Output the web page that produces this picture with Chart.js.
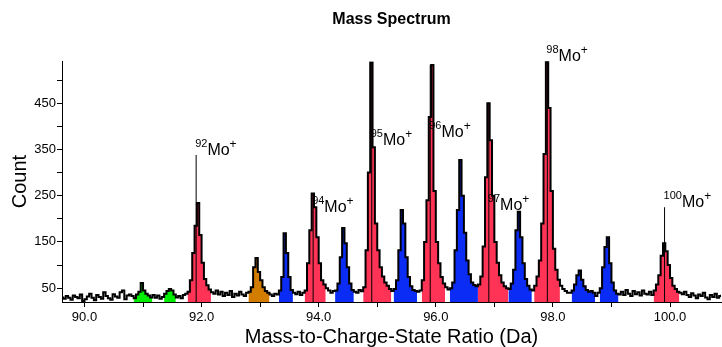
<!DOCTYPE html>
<html>
<head>
<meta charset="utf-8">
<title>Mass Spectrum</title>
<script src="https://cdn.jsdelivr.net/npm/chart.js@4.4.1/dist/chart.umd.min.js"></script>
<style>
  html, body { margin: 0; padding: 0; background: #fff; }
  #wrap { width: 722px; height: 347px; }
</style>
</head>
<body>
<div id="wrap"><canvas id="spectrumChart" width="722" height="347"></canvas></div>
<script>
// histogram bins: left edge of bin i = binStart + i * binWidth (Da)
const binStart = 89.6;
const binWidth = 0.04;
const counts = [
  30, 27, 33, 29, 25, 34, 31, 28, 36, 22,
  26, 32, 38, 29, 24, 35, 31, 27, 41, 33,
  28, 25, 37, 32, 29, 41, 45, 26, 34, 36,
  33, 28, 36, 42, 61, 45, 38, 34, 30, 35,
  29, 34, 27, 31, 38, 44, 48, 45, 36, 30,
  33, 28, 35, 38, 42, 67, 126, 185, 234, 165,
  105, 70, 56, 47, 41, 38, 45, 36, 42, 33,
  40, 35, 44, 31, 38, 34, 42, 36, 33, 40,
  42, 52, 95, 115, 85, 67, 52, 44, 40, 36,
  33, 38, 36, 45, 74, 169, 126, 74, 46, 40,
  37, 42, 35, 40, 45, 104, 175, 255, 225, 160,
  104, 67, 58, 50, 45, 40, 44, 45, 60, 117,
  180, 147, 95, 60, 46, 42, 40, 46, 43, 52,
  132, 300, 538, 355, 190, 132, 95, 75, 62, 55,
  48, 44, 48, 67, 132, 219, 190, 117, 74, 54,
  46, 44, 42, 45, 67, 150, 240, 420, 533, 260,
  150, 104, 74, 60, 52, 47, 50, 62, 132, 219,
  327, 250, 170, 110, 80, 62, 57, 54, 58, 75,
  140, 290, 450, 370, 250, 150, 105, 78, 62, 54,
  50, 48, 60, 90, 175, 215, 160, 104, 70, 55,
  47, 45, 55, 75, 110, 190, 340, 540, 440, 260,
  135, 90, 68, 55, 48, 44, 40, 40, 45, 58,
  78, 88, 68, 54, 46, 42, 44, 40, 33, 40,
  50, 95, 139, 160, 104, 62, 45, 38, 36, 42,
  35, 46, 38, 33, 44, 37, 41, 34, 45, 38,
  36, 42, 35, 45, 58, 78, 120, 147, 130, 100,
  72, 55, 48, 42, 40, 37, 42, 35, 31, 39,
  34, 28, 36, 33, 40, 30, 26, 35, 31, 38,
  29, 33, 36
];

// ranged ion windows (Da)
const rangeFrom = [90.84, 91.36, 91.76, 92.80, 93.32, 93.76, 94.28, 94.76, 95.28, 95.76, 96.24, 96.72, 97.24, 97.68, 98.32, 98.80, 99.72];
const rangeTo   = [91.16, 91.56, 92.16, 93.16, 93.56, 94.12, 94.60, 95.24, 95.68, 96.16, 96.72, 97.24, 97.64, 98.12, 98.72, 99.12, 100.16];
const rangeKind = ["green", "green", "mo", "orange", "blue", "mo", "blue", "mo", "blue", "mo", "blue", "mo", "blue", "mo", "blue", "blue", "mo"];

// Mo isotope peaks
const peakIsotopes = ["92", "94", "95", "96", "97", "98", "100"];
const peakMasses = [91.907, 93.905, 94.906, 95.905, 96.906, 97.905, 99.907];
const peakTops = [338, 255, 538, 533, 450, 540, 225];
const labelCounts = [338, 214, 359, 376, 219, 541, 225];

const xTicks = [90, 91, 92, 93, 94, 95, 96, 97, 98, 99, 100];
const xTickLabels = ["90.0", "", "92.0", "", "94.0", "", "96.0", "", "98.0", "", "100.0"];
const yTicks = [50, 100, 150, 200, 250, 300, 350, 400, 450, 500];
const yTickLabels = ["50", "", "150", "", "250", "", "350", "", "450", ""];

const kindColors = {
  green: "#00ee00",
  orange: "#d27d00",
  blue: "#0a2cf5",
  mo: "#ff3355",
};

const FONT = '"Liberation Sans", Arial, sans-serif';
Chart.defaults.font.family = FONT;
Chart.defaults.color = "#000";

const edgeOf = (i) => binStart + i * binWidth;

const spectrum = counts.map((c, i) => ({ x: edgeOf(i), y: c }));
spectrum.push({ x: edgeOf(counts.length), y: counts[counts.length - 1] });

const datasets = [
  {
    data: spectrum,
    stepped: true,
    borderColor: "#000",
    borderWidth: 2,
    pointRadius: 0,
    fill: false,
    order: 1,
  },
];

peakMasses.forEach((m, i) => {
  datasets.push({
    data: [{ x: m, y: 20 }, { x: m, y: peakTops[i] }],
    borderColor: "#000",
    borderWidth: 1,
    pointRadius: 0,
    fill: false,
    order: 2,
  });
});

rangeFrom.forEach((from, r) => {
  const i0 = Math.round((from - binStart) / binWidth);
  const i1 = Math.round((rangeTo[r] - binStart) / binWidth);
  const pts = [];
  for (let i = i0; i < i1; i++) pts.push({ x: edgeOf(i), y: counts[i] });
  pts.push({ x: edgeOf(i1), y: counts[i1 - 1] });
  datasets.push({
    data: pts,
    stepped: true,
    borderWidth: 0,
    borderColor: "rgba(0,0,0,0)",
    backgroundColor: kindColors[rangeKind[r]],
    pointRadius: 0,
    fill: "start",
    order: 3,
  });
});

const peakLabels = {
  id: "peakLabels",
  afterDatasetsDraw(chart) {
    const { ctx, scales } = chart;
    ctx.save();
    ctx.fillStyle = "#000";
    ctx.textBaseline = "alphabetic";
    ctx.textAlign = "left";
    peakMasses.forEach((m, i) => {
      let px = scales.x.getPixelForValue(m) - 1;
      const py = scales.y.getPixelForValue(labelCounts[i]);
      ctx.font = "11px " + FONT;
      ctx.fillText(peakIsotopes[i], px, py - 8);
      px += ctx.measureText(peakIsotopes[i]).width;
      ctx.font = "16px " + FONT;
      ctx.fillText("Mo", px, py);
      px += ctx.measureText("Mo").width;
      ctx.font = "12px " + FONT;
      ctx.fillText("+", px, py - 7);
    });
    ctx.restore();
  },
};

const axisGrid = {
  display: true,
  drawOnChartArea: false,
  drawTicks: true,
  tickLength: 5,
  color: "#000",
  lineWidth: 1,
};

new Chart(document.getElementById("spectrumChart"), {
  type: "line",
  data: { datasets: datasets },
  plugins: [peakLabels],
  options: {
    responsive: false,
    animation: false,
    devicePixelRatio: 1,
    layout: { padding: { top: 0, right: 1, bottom: 0, left: 0 } },
    plugins: {
      legend: { display: false },
      tooltip: { enabled: false },
      title: {
        display: true,
        fullSize: false,
        text: "Mass Spectrum",
        color: "#000",
        font: { size: 16, weight: "bold", lineHeight: 1.2 },
        padding: { top: 10, bottom: 32 },
      },
    },
    scales: {
      x: {
        type: "linear",
        min: 89.616,
        max: 100.871,
        afterBuildTicks: (scale) => {
          scale.ticks = xTicks.map((v) => ({ value: v }));
        },
        afterFit: (scale) => {
          scale.height = 45;
        },
        ticks: {
          autoSkip: false,
          maxRotation: 0,
          padding: 3,
          font: { size: 13 },
          callback: (value, index) => xTickLabels[index],
        },
        grid: axisGrid,
        border: { display: true, color: "#000", width: 1 },
        title: {
          display: true,
          text: "Mass-to-Charge-State Ratio (Da)",
          font: { size: 20, lineHeight: 1 },
          padding: { top: 0, bottom: 0 },
        },
      },
      y: {
        type: "linear",
        min: 20,
        max: 541,
        afterBuildTicks: (scale) => {
          scale.ticks = yTicks.map((v) => ({ value: v }));
        },
        afterFit: (scale) => {
          scale.width = 62;
        },
        ticks: {
          autoSkip: false,
          padding: 1,
          font: { size: 13 },
          callback: (value, index) => yTickLabels[index],
        },
        grid: axisGrid,
        border: { display: true, color: "#000", width: 1 },
        title: {
          display: true,
          text: "Count",
          font: { size: 20, lineHeight: 1 },
          padding: { top: 10, bottom: 0 },
        },
      },
    },
  },
});
</script>
</body>
</html>
